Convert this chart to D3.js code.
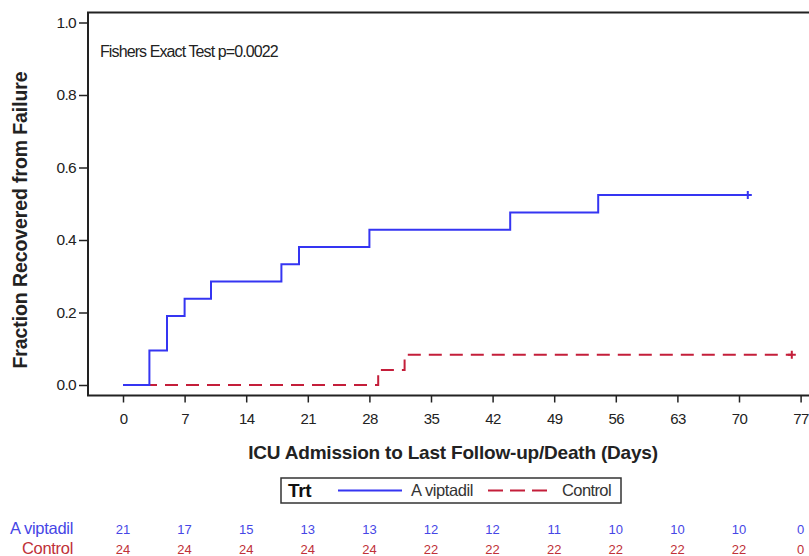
<!DOCTYPE html>
<html>
<head>
<meta charset="utf-8">
<script src="https://cdn.jsdelivr.net/npm/d3@7"></script>
<style>
  body { margin: 0; background: #fff; }
  svg { display: block; font-family: "Liberation Sans", Arial, sans-serif; }
</style>
</head>
<body>
<svg id="chart" width="809" height="556"></svg>
<script>
// step data: [day, cumulative fraction recovered]
var aviptadil = [[0, 0], [3, 2/21], [5, 4/21], [7, 5/21], [10, 6/21], [18, 7/21],
                 [20, 8/21], [28, 9/21], [44, 10/21], [54, 11/21], [71, 11/21]];
var control = [[0, 0], [29, 1/24], [32, 2/24], [76, 2/24]];
var censorAvip = [71];
var censorCtrl = [76];

var xTicks = [0, 7, 14, 21, 28, 35, 42, 49, 56, 63, 70, 77];
var yTicks = [0, 0.2, 0.4, 0.6, 0.8, 1.0];
var atRiskAvip = [21, 17, 15, 13, 13, 12, 12, 11, 10, 10, 10, 0];
var atRiskCtrl = [24, 24, 24, 24, 24, 22, 22, 22, 22, 22, 22, 0];

var blue = "#3535f2", red = "#c41e3a";
var blueTxt = "#4646e6", redTxt = "#c03038";

var svg = d3.select("#chart");
var x = d3.scaleLinear().domain([0, 77]).range([123, 800.6]);
var y = d3.scaleLinear().domain([0, 1]).range([385, 22.5]);

// frame (right side runs off the page)
var frame = { left: 88, top: 12.5, bottom: 395.5, right: 830 };
svg.append("path")
    .attr("d", "M" + frame.right + "," + frame.top + "H" + frame.left + "V" + frame.bottom + "H" + frame.right)
    .attr("fill", "none").attr("stroke", "#222").attr("stroke-width", 2);

// y axis
var yAxis = svg.append("g").attr("transform", "translate(" + frame.left + ",0)")
    .call(d3.axisLeft(y).tickValues(yTicks).tickFormat(d3.format(".1f")).tickSize(9).tickPadding(3));
yAxis.select(".domain").remove();
yAxis.selectAll(".tick line").attr("stroke", "#222").attr("stroke-width", 1.5);
yAxis.selectAll(".tick text").attr("font-size", 15.5).attr("fill", "#222")
    .attr("font-family", "Liberation Sans, Arial, sans-serif").attr("letter-spacing", -0.7);

// x axis
var xAxis = svg.append("g").attr("transform", "translate(0," + frame.bottom + ")")
    .call(d3.axisBottom(x).tickValues(xTicks).tickSize(7).tickPadding(11));
xAxis.select(".domain").remove();
xAxis.selectAll(".tick line").attr("stroke", "#222").attr("stroke-width", 1.5);
xAxis.selectAll(".tick text").attr("font-size", 15).attr("fill", "#222")
    .attr("font-family", "Liberation Sans, Arial, sans-serif").attr("letter-spacing", -0.6);

// axis titles
svg.append("text").attr("transform", "translate(27,220) rotate(-90)")
    .attr("text-anchor", "middle").attr("font-size", 19.5).attr("font-weight", "bold")
    .attr("fill", "#222").attr("letter-spacing", -0.1).text("Fraction Recovered from Failure");
svg.append("text").attr("x", 453).attr("y", 459)
    .attr("text-anchor", "middle").attr("font-size", 19).attr("font-weight", "bold")
    .attr("fill", "#222").attr("letter-spacing", -0.2).text("ICU Admission to Last Follow-up/Death (Days)");

svg.append("text").attr("x", 100).attr("y", 57)
    .attr("font-size", 16).attr("fill", "#222").attr("letter-spacing", -0.9)
    .text("Fishers Exact Test p=0.0022");

// step lines
var line = d3.line().x(function(d) { return x(d[0]); }).y(function(d) { return y(d[1]); })
    .curve(d3.curveStepAfter);
svg.append("path").datum(control).attr("d", line).attr("fill", "none")
    .attr("stroke", red).attr("stroke-width", 2).attr("stroke-dasharray", "13,8");
svg.append("path").datum(aviptadil).attr("d", line).attr("fill", "none")
    .attr("stroke", blue).attr("stroke-width", 2);

// censor marks
function censor(days, series, color) {
    var last = series[series.length - 1][1];
    svg.selectAll(null).data(days).enter().append("path")
        .attr("d", function(d) {
            var cx = x(d), cy = y(last);
            return "M" + (cx - 4) + "," + cy + "H" + (cx + 4) + "M" + cx + "," + (cy - 4) + "V" + (cy + 4);
        })
        .attr("stroke", color).attr("stroke-width", 2);
}
censor(censorAvip, aviptadil, blue);
censor(censorCtrl, control, red);

// legend
var lg = svg.append("g");
lg.append("rect").attr("x", 281).attr("y", 478).attr("width", 340).attr("height", 25)
    .attr("fill", "#fff").attr("stroke", "#333").attr("stroke-width", 1.5);
lg.append("text").attr("x", 288).attr("y", 497).attr("font-size", 19).attr("font-weight", "bold")
    .attr("fill", "#111").attr("letter-spacing", -0.3).text("Trt");
lg.append("line").attr("x1", 338).attr("x2", 402).attr("y1", 490.5).attr("y2", 490.5)
    .attr("stroke", blue).attr("stroke-width", 2);
lg.append("text").attr("x", 411).attr("y", 496).attr("font-size", 16.5).attr("fill", "#333")
    .attr("letter-spacing", -0.4).text("A viptadil");
lg.append("line").attr("x1", 488).attr("x2", 547).attr("y1", 490.5).attr("y2", 490.5)
    .attr("stroke", red).attr("stroke-width", 2).attr("stroke-dasharray", "15,7");
lg.append("text").attr("x", 562).attr("y", 496).attr("font-size", 16.5).attr("fill", "#333")
    .attr("letter-spacing", -0.6).text("Control");

// numbers at risk
function riskRow(label, values, color, yy) {
    svg.append("text").attr("x", 73).attr("y", yy).attr("text-anchor", "end")
        .attr("font-size", 16.5).attr("fill", color).attr("letter-spacing", -0.3).text(label);
    svg.selectAll(null).data(values).enter().append("text")
        .attr("x", function(d, i) { return x(xTicks[i]); }).attr("y", yy)
        .attr("text-anchor", "middle").attr("font-size", 13).attr("fill", color)
        .text(function(d) { return d; });
}
riskRow("A viptadil", atRiskAvip, blueTxt, 534);
riskRow("Control", atRiskCtrl, redTxt, 554);
</script>
</body>
</html>
